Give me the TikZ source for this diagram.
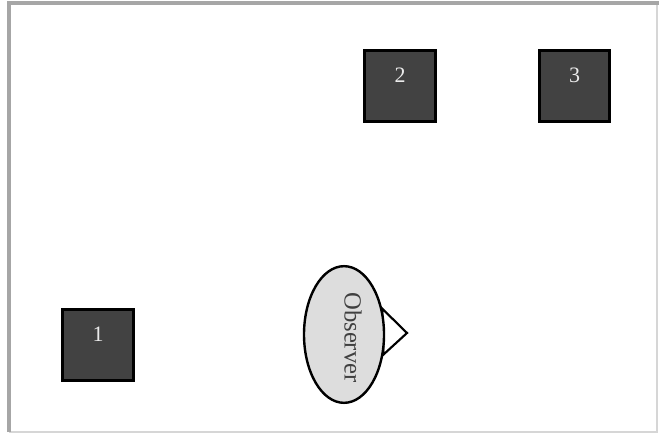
\documentclass[tikz,border=0pt]{standalone}
\usepackage{fontspec}
\setmainfont{Liberation Serif}
\usetikzlibrary{shapes.geometric,backgrounds}
\definecolor{boxgray}{HTML}{424242}
\definecolor{obsgray}{HTML}{DDDDDD}
\definecolor{framegray}{HTML}{A6A6A6}
\definecolor{framelight}{HTML}{D6D6D6}
\tikzset{
  target/.style={rectangle,draw=black,fill=boxgray,line width=2.4pt,minimum size=53pt,inner sep=0pt},
  numlabel/.style={text=white!92!black,font=\fontsize{16.5}{16.5}\selectfont,yshift=8pt},
  observer/.style={ellipse,draw=black,fill=obsgray,line width=1.8pt,minimum width=60pt,minimum height=102.5pt,inner sep=0pt},
  eye/.style={draw=black,fill=white,line width=1.6pt,line join=miter}
}
\begin{document}
\begin{tikzpicture}[x=0.75pt,y=-0.75pt]
  \useasboundingbox (0,0) rectangle (659,434);

  % frame
  \draw[framelight,line width=1pt] (9,432) -- (657,432) -- (657,3);
  \draw[framegray,line width=2.4pt] (9,432) -- (9,3) -- (659,3);

  % targets
  \node[target,label={[numlabel]center:1}] (t1) at (98,345) {};
  \node[target,label={[numlabel]center:2}] (t2) at (400,86) {};
  \node[target,label={[numlabel]center:3}] (t3) at (574.5,86) {};

  % observer
  \node[observer] (obs) at (344,334.5) {};
  \node[rotate=-90,text=black!75,font=\fontsize{18.5}{18.5}\selectfont] (obstext) at (353,337.5) {Observer};
  \coordinate (tip) at (407,333);
  \begin{pgfonlayer}{background}
    \draw[eye] (obs.34) -- (tip) -- (obs.-27) -- cycle;
  \end{pgfonlayer}
\end{tikzpicture}
\end{document}
